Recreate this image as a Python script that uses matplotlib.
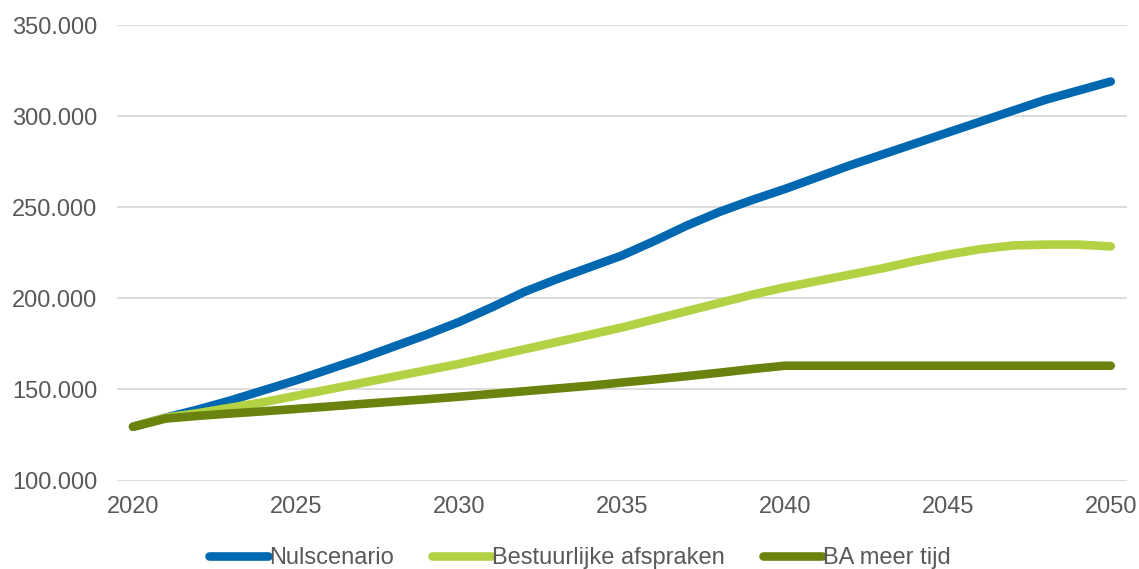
import matplotlib
matplotlib.use("Agg")
import matplotlib.pyplot as plt
from matplotlib.ticker import FuncFormatter

years = list(range(2020, 2051))

nulscenario = [129.5, 134.5, 139, 144, 149.5, 155, 161, 167, 173.5, 180,
               187, 195, 203.5, 210.5, 217, 223.5, 231.5, 240, 247.5, 254,
               260, 266.5, 273, 279, 285, 291, 297, 303, 309, 314, 319]
bestuurlijk = [129.5, 134.5, 137, 140, 143, 146.5, 150, 153.5, 157, 160.5,
               164, 168, 172, 176, 180, 184, 188.5, 193, 197.5, 202,
               206, 209.5, 213, 216.5, 220.5, 224, 227, 229, 229.5, 229.5, 228.5]
ba_meer_tijd = [129.5, 134, 135.5, 136.8, 138, 139.3, 140.6, 142, 143.3, 144.6,
                146, 147.5, 149, 150.5, 152, 153.8, 155.5, 157.3, 159.2, 161.2,
                163, 163, 163, 163, 163, 163, 163, 163, 163, 163, 163]

series = ["Nulscenario", "Bestuurlijke afspraken", "BA meer tijd"]
colors = ["#0068B0", "#B2D243", "#6A820E"]

plt.rcParams['font.family'] = ['Liberation Sans', 'DejaVu Sans']
text_color = "#595959"

fig = plt.figure(figsize=(11.39, 5.69), dpi=100)
ax = fig.add_axes([0.1025, 0.1555, 0.8870, 0.8005])

for name, vals, c in zip(series, [nulscenario, bestuurlijk, ba_meer_tijd], colors):
    ax.plot(years, [v * 1000 for v in vals], color=c, lw=6.2,
            solid_capstyle='round', solid_joinstyle='round', label=name)

ax.set_xlim(2019.5, 2050.5)
ax.set_ylim(100000, 350000)
ax.set_xticks(range(2020, 2051, 5))
ax.set_yticks(range(100000, 350001, 50000))
ax.yaxis.set_major_formatter(FuncFormatter(lambda v, p: f"{v:,.0f}".replace(",", ".")))

ax.grid(axis='y', color="#D9D9D9", lw=1.3)
ax.set_axisbelow(True)
for s in ax.spines.values():
    s.set_visible(False)
ax.tick_params(length=0, labelsize=17, labelcolor=text_color)
ax.tick_params(axis='y', pad=14)
ax.tick_params(axis='x', pad=11)

fig.legend(loc='center', bbox_to_anchor=(580 / 1139, 1 - 558 / 569), ncol=3,
           frameon=False, fontsize=17, labelcolor=text_color,
           handlelength=2.5, handletextpad=0.05, columnspacing=1.6)

fig.savefig("out.png", dpi=100)
